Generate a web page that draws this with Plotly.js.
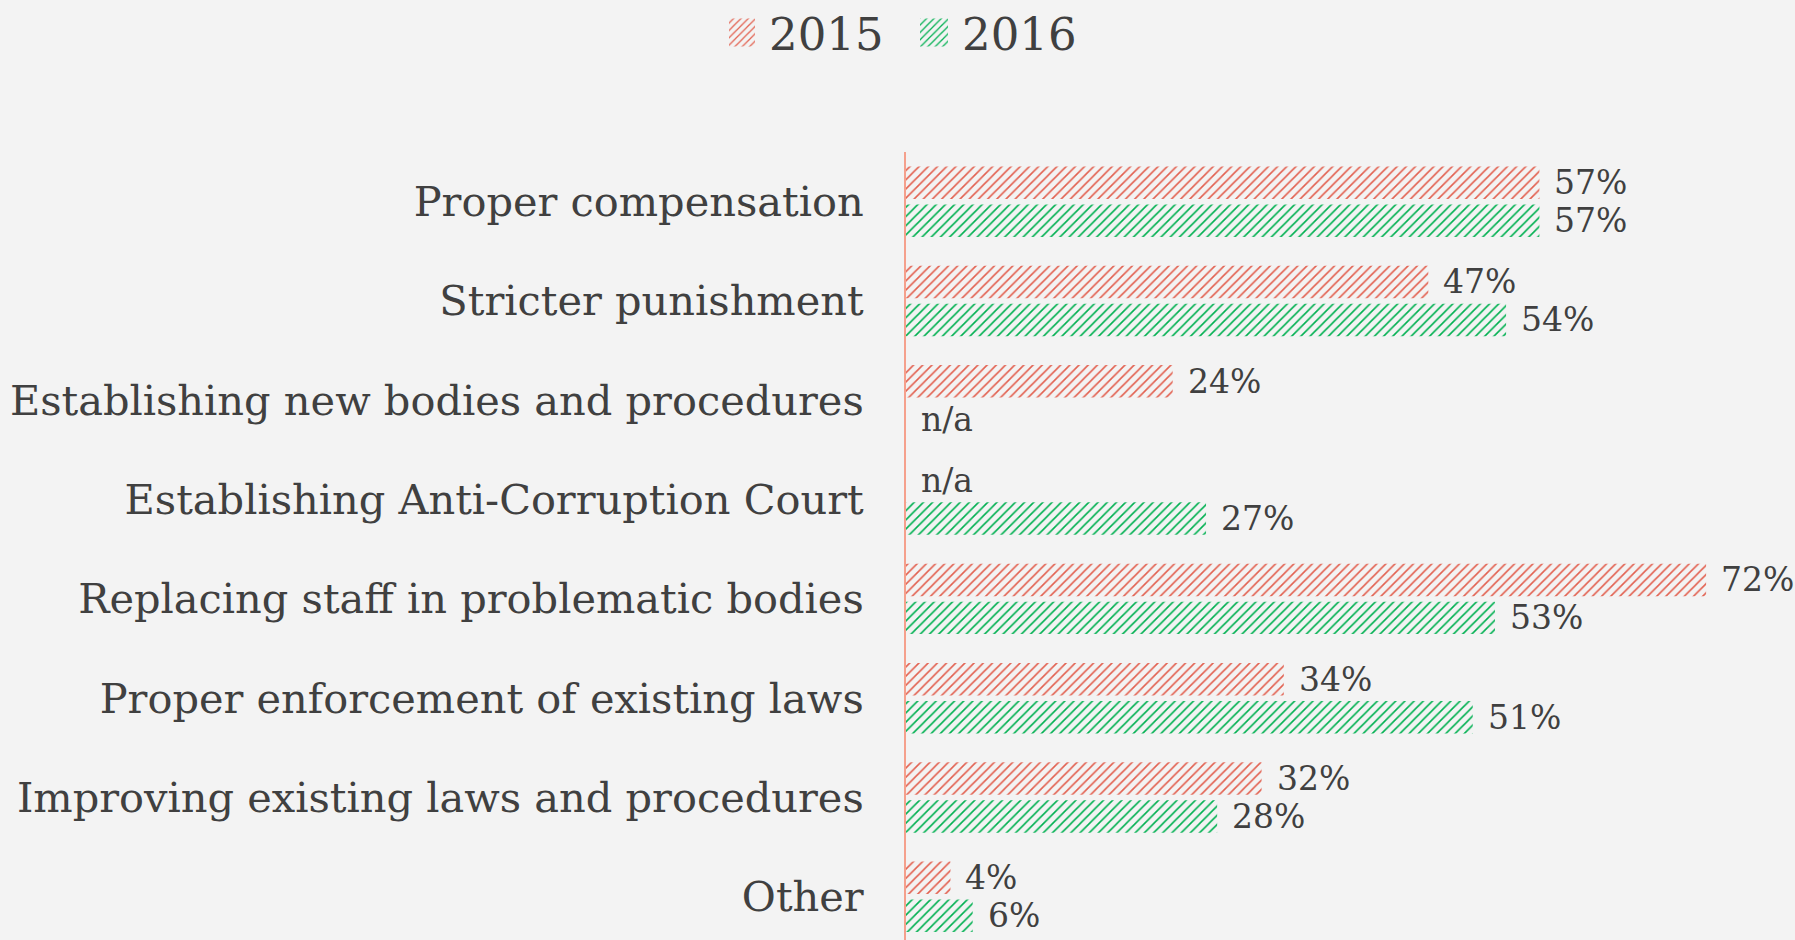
<!DOCTYPE html>
<html>
<head>
<meta charset="utf-8">
<script src="https://cdn.plot.ly/plotly-3.0.1.min.js"></script>
<style>
  html, body { margin: 0; padding: 0; background: #f3f3f3; }
  #chart { width: 1795px; height: 940px; }
</style>
</head>
<body>
<div id="chart"></div>
<script>
const categories = [
  "Proper compensation",
  "Stricter punishment",
  "Establishing new bodies and procedures",
  "Establishing Anti-Corruption Court",
  "Replacing staff in problematic bodies",
  "Proper enforcement of existing laws",
  "Improving existing laws and procedures",
  "Other"
];
const seriesNames = ["2015", "2016"];
const values2015 = [57, 47, 24, null, 72, 34, 32, 4];
const values2016 = [57, 54, null, 27, 53, 51, 28, 6];
const seriesColors = ["#e2604f", "#00b050"];
const naLabel = "n/a";

const series = [values2015, values2016];
const FONT = "'DejaVu Serif', Georgia, serif";
const TEXT = "#404040";

const traces = series.map((vals, i) => ({
  type: "bar",
  orientation: "h",
  name: seriesNames[i],
  y: categories,
  x: vals,
  marker: {
    color: seriesColors[i],
    line: { width: 0 },
    pattern: { shape: "/", size: 6.5, solidity: 0.25, fgcolor: seriesColors[i] }
  },
  hoverinfo: "skip"
}));

const annotations = [];
series.forEach((vals, i) => {
  vals.forEach((v, j) => {
    annotations.push({
      x: v == null ? 0 : v,
      y: categories[j],
      xref: "x", yref: "y",
      text: v == null ? naLabel : v + "%",
      showarrow: false,
      xanchor: "left",
      yanchor: "middle",
      xshift: 13,
      yshift: i === 0 ? 19 : -19,
      font: { family: FONT, size: 33, color: TEXT }
    });
  });
});

const layout = {
  width: 1795,
  height: 940,
  paper_bgcolor: "#f3f3f3",
  plot_bgcolor: "#f3f3f3",
  margin: { l: 906, r: 0, t: 152, b: 0, pad: 0, autoexpand: false },
  barmode: "group",
  bargap: 0.235,
  bargroupgap: 0.145,
  showlegend: true,
  legend: {
    orientation: "h",
    x: 0.018, xanchor: "center",
    y: 1.197, yanchor: "top",
    entrywidth: 148,
    font: { family: FONT, size: 45, color: TEXT },
    bgcolor: "rgba(0,0,0,0)",
    traceorder: "normal"
  },
  xaxis: {
    range: [0, 80],
    showgrid: false,
    zeroline: false,
    showticklabels: false,
    showline: false,
    ticks: ""
  },
  yaxis: {
    type: "category",
    range: [7.435, -0.5],
    showgrid: false,
    zeroline: false,
    showline: true,
    linecolor: "#f5a08c",
    linewidth: 2,
    ticks: "",
    ticklabelstandoff: 32,
    tickfont: { family: FONT, size: 41.5, color: TEXT }
  },
  annotations: annotations,
  font: { family: FONT, color: TEXT }
};

Plotly.newPlot("chart", traces, layout, { displayModeBar: false, staticPlot: true }).then(gd => {
  // enlarge the legend swatches to match the reference's larger square keys
  gd.querySelectorAll(".legend .legendpoints path").forEach(p => {
    p.setAttribute("d", "M6,14H-22V-14H6Z");
  });
});
</script>
</body>
</html>
